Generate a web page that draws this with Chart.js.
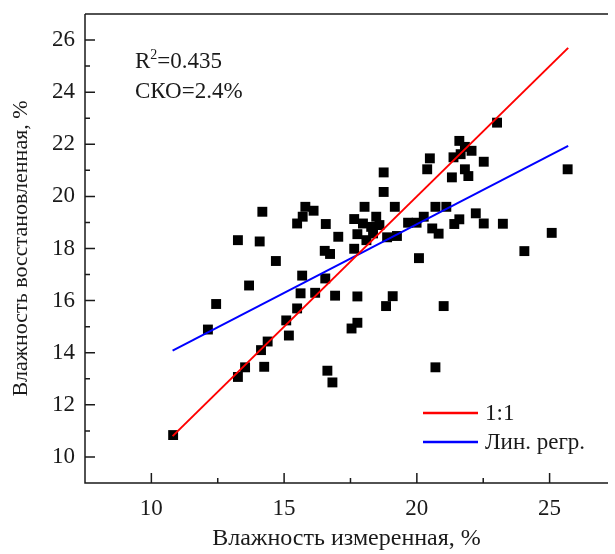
<!DOCTYPE html>
<html><head><meta charset="utf-8">
<script src="https://cdn.jsdelivr.net/npm/chart.js@4"></script>
<style>html,body{margin:0;padding:0;background:#fff;overflow:hidden}</style>
</head><body>
<canvas id="c" width="615" height="554"></canvas>
<script>
const measured = [
  10.82, 12.13, 12.44, 13.26, 13.68, 14.08, 14.18, 14.69, 13.26, 13.53, 14.13, 14.38, 14.25,
  15.08, 15.18, 15.49, 15.62, 16.17, 15.68, 16.55, 16.92, 17.76, 19.09, 18.84, 17.76, 17.54, 16.63, 16.82,
  21.01, 20.70, 20.08, 24.05, 25.08, 25.68, 23.02, 21.60, 21.81, 22.06, 21.38, 21.65, 20.49, 22.52, 20.39, 21.81, 21.94, 21.32,
  19.17, 20.70, 21.11, 20.26, 22.22, 21.60, 21.41, 22.52, 23.24, 19.67, 19.99, 20.58, 20.82, 19.25,
  18.75, 18.75, 15.80, 16.11, 15.70, 15.49, 16.57, 17.04, 16.53, 16.73,
  18.03, 17.64, 17.97, 18.28, 18.47, 18.59, 17.76, 18.10, 18.35, 18.88, 17.64
];
const restored = [
  10.84, 14.89, 15.87, 18.32, 16.58, 18.27, 19.41, 17.52, 13.07, 13.44, 14.10, 14.43, 13.46,
  15.24, 14.66, 15.70, 16.28, 16.30, 16.96, 16.85, 16.19, 16.16, 16.17, 15.79, 15.15, 14.93, 13.31, 12.86,
  15.79, 13.44, 17.63, 17.90, 18.60, 21.04, 22.83, 22.13, 21.90, 21.75, 21.50, 21.62, 21.46, 21.33, 21.04, 21.04, 20.78, 20.73,
  19.60, 19.60, 19.60, 19.22, 19.35, 19.12, 18.94, 18.96, 18.95, 18.99, 18.99, 18.77, 18.57, 18.48,
  20.92, 20.17, 19.60, 19.45, 19.22, 18.96, 18.94, 18.45, 17.91, 17.79,
  19.60, 19.13, 18.96, 18.83, 19.22, 18.90, 18.55, 18.32, 18.58, 18.43, 17.99
];
const oneToOneX = [10.8, 25.7];
const oneToOneY = [10.8, 25.7];
const regrX = [10.8, 25.7];
const regrY = [14.08, 21.94];
const seriesLabels = ['1:1', 'Лин. регр.'];
const xMajorTicks = [10, 15, 20, 25];
const xMinorTicks = [12.5, 17.5, 22.5];
const yMajorTicks = [10, 12, 14, 16, 18, 20, 22, 24, 26];
const yMinorTicks = [11, 13, 15, 17, 19, 21, 23, 25];
const r2Value = '0.435';
const rmseValue = '2.4%';
const xTitle = 'Влажность измеренная, %';
const yTitle = 'Влажность восстановленная, %';

const FONT = "'Liberation Serif', 'Times New Roman', serif";
const INK = '#1a1a1a';

const pairs = (xs, ys) => xs.map((v, i) => ({x: v, y: ys[i]}));

const decorPlugin = {
  id: 'decor',
  afterDraw(chart) {
    const {ctx, chartArea: a, scales: {x, y}} = chart;
    ctx.save();
    ctx.strokeStyle = INK;
    ctx.lineWidth = 1.5;
    ctx.beginPath();
    ctx.moveTo(a.left, a.top); ctx.lineTo(a.right, a.top);
    ctx.moveTo(a.left, a.top); ctx.lineTo(a.left, a.bottom); ctx.lineTo(a.right, a.bottom);
    xMajorTicks.forEach(v => { const p = x.getPixelForValue(v); ctx.moveTo(p, a.bottom); ctx.lineTo(p, a.bottom - 10); });
    xMinorTicks.forEach(v => { const p = x.getPixelForValue(v); ctx.moveTo(p, a.bottom); ctx.lineTo(p, a.bottom - 5); });
    yMajorTicks.forEach(v => { const p = y.getPixelForValue(v); ctx.moveTo(a.left, p); ctx.lineTo(a.left + 10, p); });
    yMinorTicks.forEach(v => { const p = y.getPixelForValue(v); ctx.moveTo(a.left, p); ctx.lineTo(a.left + 5, p); });
    ctx.stroke();

    // statistics annotation
    ctx.fillStyle = INK;
    ctx.textBaseline = 'alphabetic';
    ctx.textAlign = 'left';
    ctx.font = '23px ' + FONT;
    let tx = a.left + 50, ty = a.top + 54;
    ctx.fillText('R', tx, ty);
    tx += ctx.measureText('R').width;
    ctx.font = '14px ' + FONT;
    ctx.fillText('2', tx, ty - 9);
    tx += ctx.measureText('2').width;
    ctx.font = '23px ' + FONT;
    ctx.fillText('=' + r2Value, tx, ty);
    ctx.fillText('СКО=' + rmseValue, a.left + 50, ty + 30);

    // legend
    const lx = a.right - 185;
    chart.data.datasets.forEach((ds, i) => {
      if (!ds.showLine) return;
      const ly = a.bottom - 70 + i * 29;
      ctx.strokeStyle = ds.borderColor;
      ctx.lineWidth = 2.5;
      ctx.beginPath(); ctx.moveTo(lx, ly); ctx.lineTo(lx + 55, ly); ctx.stroke();
      ctx.fillStyle = INK;
      ctx.textBaseline = 'middle';
      ctx.fillText(ds.label, lx + 62, ly + 1);
    });
    ctx.restore();
  }
};

new Chart(document.getElementById('c'), {
  type: 'scatter',
  data: {
    datasets: [
      { label: seriesLabels[0], data: pairs(oneToOneX, oneToOneY), showLine: true, borderColor: '#ff0000', borderWidth: 2, pointRadius: 0, fill: false },
      { label: seriesLabels[1], data: pairs(regrX, regrY), showLine: true, borderColor: '#0000ff', borderWidth: 2, pointRadius: 0, fill: false },
      { label: 'data', data: pairs(measured, restored), showLine: false, pointStyle: 'rect', pointRadius: 7, pointBackgroundColor: '#000', pointBorderWidth: 0, borderColor: '#000' }
    ]
  },
  options: {
    responsive: false,
    devicePixelRatio: 1,
    animation: false,
    layout: { padding: { top: 14, right: 0, left: 0, bottom: 0 } },
    plugins: { legend: { display: false }, tooltip: { enabled: false } },
    scales: {
      x: {
        type: 'linear', min: 7.5, max: 27.2,
        afterBuildTicks: s => { s.ticks = xMajorTicks.map(v => ({value: v})); },
        afterFit: s => { s.height = 71; s.paddingLeft = 0; s.paddingRight = 0; },
        grid: { display: false, drawTicks: false },
        border: { display: false },
        ticks: { font: { family: FONT, size: 23 }, color: INK, padding: 12, maxRotation: 0 },
        title: { display: true, text: xTitle, font: { family: FONT, size: 24 }, color: INK, padding: { top: 0, bottom: 1 } }
      },
      y: {
        type: 'linear', min: 9, max: 27,
        afterBuildTicks: s => { s.ticks = yMajorTicks.map(v => ({value: v})); },
        afterFit: s => { s.width = 85; s.paddingTop = 0; s.paddingBottom = 0; },
        grid: { display: false, drawTicks: false },
        border: { display: false },
        ticks: { font: { family: FONT, size: 23 }, color: INK, padding: 10 },
        title: { display: true, text: yTitle, font: { family: FONT, size: 22 }, color: INK, padding: { top: 8, bottom: 0 } }
      }
    }
  },
  plugins: [decorPlugin]
});
</script>
</body></html>
